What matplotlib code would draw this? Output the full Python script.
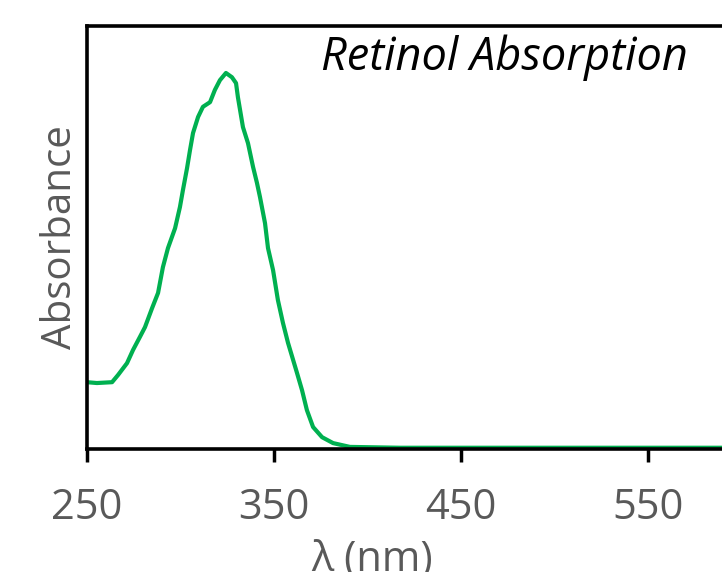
import matplotlib
matplotlib.use("Agg")
import matplotlib.pyplot as plt

# wavelength (nm) and absorbance
wavelength = [250.0, 255.3, 263.4, 266.6, 271.4, 274.6, 278.3, 281.0, 284.8, 288.0,
              290.6, 293.3, 297.1, 299.7, 301.3, 303.5, 305.1, 306.7, 309.4, 312.0,
              315.8, 318.4, 321.1, 324.3, 327.5, 329.7, 330.7, 333.4, 336.1, 338.8,
              340.9, 342.5, 345.2, 346.8, 349.5, 352.1, 354.8, 357.5, 362.3, 365.0,
              367.6, 370.9, 375.7, 381.6, 390.6, 417.4, 500.0, 589.6]
absorbance = [0.158, 0.156, 0.158, 0.175, 0.203, 0.234, 0.265, 0.288, 0.333, 0.369,
              0.430, 0.475, 0.522, 0.572, 0.612, 0.664, 0.707, 0.747, 0.785, 0.809,
              0.820, 0.849, 0.872, 0.889, 0.879, 0.865, 0.832, 0.761, 0.723, 0.667,
              0.629, 0.596, 0.534, 0.475, 0.423, 0.352, 0.298, 0.251, 0.180, 0.139,
              0.092, 0.052, 0.028, 0.014, 0.005, 0.003, 0.003, 0.003]
x_ticks = [250, 350, 450, 550]

plt.rcParams['font.family'] = ['Open Sans', 'DejaVu Sans']

fig = plt.figure(figsize=(7.22, 5.72), dpi=100)
ax = fig.add_axes([0.1205, 0.215, 0.8795, 0.7395])

ax.plot(wavelength, absorbance, color='#00b050', lw=3.0,
        solid_joinstyle='round', solid_capstyle='round')

ax.set_xlim(250, 589.6)
ax.set_ylim(0, 1)
ax.set_xticks(x_ticks)
ax.set_yticks([])
ax.tick_params(axis='x', direction='out', length=9, width=2.5, color='black',
               labelsize=30, labelcolor='#595959', pad=18)

for side in ['left', 'top', 'bottom']:
    ax.spines[side].set_linewidth(2.6)
    ax.spines[side].set_color('black')
ax.spines['right'].set_visible(False)

ax.set_ylabel("Absorbance", fontsize=29, color='#595959', labelpad=4)
ax.set_xlabel("λ (nm)", fontsize=30, color='#595959', va='top')
ax.xaxis.set_label_coords(0.449, -0.212)

ax.text(0.9465, 0.896, "Retinol Absorption", transform=ax.transAxes,
        ha='right', va='baseline', fontsize=32.5, style='italic', color='black')

fig.savefig("out.png", dpi=100)
